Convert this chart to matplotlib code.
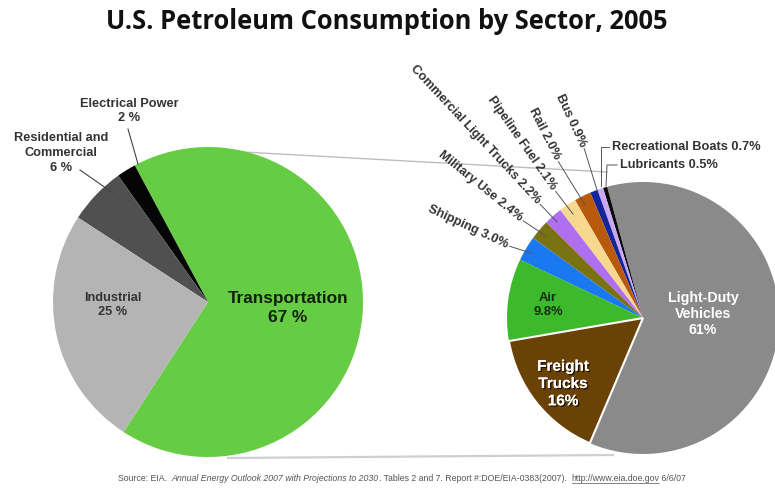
import math
import matplotlib
matplotlib.use("Agg")
import matplotlib.pyplot as plt
import matplotlib.patheffects as pe

# ---- data ----
sector_labels = ["Transportation", "Electrical Power", "Residential and\nCommercial", "Industrial"]
sector_values = [67, 2, 6, 25]
sector_colors = ["#66cc44", "#050505", "#505050", "#b4b4b4"]

transport_labels = ["Light-Duty Vehicles", "Lubricants", "Recreational Boats", "Bus", "Rail",
                    "Pipeline Fuel", "Commercial Light Trucks", "Military Use", "Shipping",
                    "Air", "Freight Trucks"]
transport_values = [61, 0.5, 0.7, 0.9, 2.0, 2.1, 2.2, 2.4, 3.0, 9.8, 16]
transport_colors = ["#8a8a8a", "#0a0a0a", "#caa8f2", "#14249a", "#b85a0c", "#f6d88e",
                    "#b06ef0", "#7a7212", "#1a78f0", "#3cba2c", "#6a4206"]

W, H = 775, 490
def P(x, y):
    return (x, H - y)

fig = plt.figure(figsize=(W / 100, H / 100), dpi=100)
ax = fig.add_axes([0, 0, 1, 1])

LBL = "Liberation Sans"
LS = 9.2  # outside label size

# connector lines
ax.plot(*zip(P(243, 152), P(607, 172)), color="#bdbdbd", lw=1.0, zorder=1)
ax.plot(*zip(P(228, 458), P(613, 455)), color="#cfcfcf", lw=1.6, zorder=1)

# left pie
ax.pie(sector_values, colors=sector_colors, center=P(208, 302), radius=155,
       startangle=-123, counterclock=True,
       wedgeprops=dict(edgecolor="none", linewidth=0))

# right pie
explode = [0.055 if l == "Freight Trucks" else 0 for l in transport_labels]
wedges, _ = ax.pie(transport_values, colors=transport_colors, center=P(643, 318), radius=136,
                   startangle=-113, counterclock=True, explode=explode,
                   wedgeprops=dict(edgecolor="none", linewidth=0))
wedges[-1].set_edgecolor("white")
wedges[-1].set_linewidth(1.5)

ax.set_xlim(0, W)
ax.set_ylim(0, H)
ax.set_aspect("auto")
ax.axis("off")

# title
ax.text(*P(387, 22), "U.S. Petroleum Consumption by Sector, 2005", ha="center", va="center",
        fontsize=18.4, fontweight="bold", family="Open Sans", color="#111111")

# left pie labels
ax.text(*P(288, 308), f"{sector_labels[0]}\n{sector_values[0]} %", ha="center", va="center",
        fontsize=12.4, fontweight="bold", family=LBL, color="#102010", linespacing=1.3)
ax.text(*P(113, 305), f"{sector_labels[3]}\n{sector_values[3]} %", ha="center", va="center",
        fontsize=LS, fontweight="bold", family=LBL, color="#333333", linespacing=1.25)
ax.text(*P(129, 111), f"{sector_labels[1]}\n{sector_values[1]} %", ha="center", va="center",
        fontsize=LS, fontweight="bold", family=LBL, color="#333333", linespacing=1.3)
ax.text(*P(61, 153), f"{sector_labels[2]}\n{sector_values[2]} %", ha="center", va="center",
        fontsize=LS, fontweight="bold", family=LBL, color="#333333", linespacing=1.35)
ax.plot(*zip(P(128, 129), P(138, 164)), color="#444444", lw=0.8)
ax.plot(*zip(P(80, 170), P(113, 193)), color="#444444", lw=0.8)

# right pie inside labels
ax.text(*P(703, 314), f"Light-Duty\nVehicles\n{transport_values[0]:g}%", ha="center", va="center",
        fontsize=10.2, fontweight="bold", family=LBL, color="white", linespacing=1.2)
ax.text(*P(563, 384), f"Freight\nTrucks\n{transport_values[10]:g}%", ha="center", va="center",
        fontsize=11, fontweight="bold", family=LBL, color="white", linespacing=1.3,
        path_effects=[pe.withSimplePatchShadow(offset=(1, -1), shadow_rgbFace="#1a0e00", alpha=0.9),
                      pe.Normal()])
ax.text(*P(548, 305), f"Air\n{transport_values[9]:g}%", ha="center", va="center",
        fontsize=9.4, fontweight="bold", family=LBL, color="#1a2a10", linespacing=1.2)

# rotated outside labels: (index, anchor end x,y, rotation, leader end x,y)
rot_specs = [
    (8, (507, 245), -25, (531, 253)),
    (7, (521, 219), -39, (546, 236)),
    (6, (538, 202), -47, (557, 222)),
    (5, (554, 189), -55, (573, 214)),
    (4, (557, 159), -63, (585, 205)),
    (3, (583, 146), -65, (597, 190)),
]
for idx, (tx, ty), rot, (lx, ly) in rot_specs:
    ax.text(*P(tx, ty), f"{transport_labels[idx]} {transport_values[idx]:.1f}%",
            ha="right", va="center", rotation=rot, rotation_mode="anchor",
            fontsize=LS, fontweight="bold", family=LBL, color="#333333")
    r = math.radians(rot)
    sx, sy = tx + 3 * math.cos(r), ty - 3 * math.sin(r)
    ax.plot(*zip(P(sx, sy), P(lx, ly)), color="#555555", lw=0.7)

# horizontal labels with bracket leaders
ax.text(*P(612, 147), f"{transport_labels[2]} {transport_values[2]:.1f}%", ha="left", va="center",
        fontsize=LS, fontweight="bold", family=LBL, color="#333333")
ax.plot(*zip(P(609, 147), P(601, 147), P(601, 186)), color="#555555", lw=0.7)
ax.text(*P(620, 165), f"{transport_labels[1]} {transport_values[1]:.1f}%", ha="left", va="center",
        fontsize=LS, fontweight="bold", family=LBL, color="#333333")
ax.plot(*zip(P(617, 165), P(607, 165), P(606, 186)), color="#555555", lw=0.7)

# source line
SS = 6.3
fig.canvas.draw()
renderer = fig.canvas.get_renderer()
def after(t):
    bb = t.get_window_extent(renderer)
    return ax.transData.inverted().transform((bb.x1, bb.y0))[0]
t1 = ax.text(118, H - 478, "Source: EIA.  ", ha="left", va="center", fontsize=SS, family=LBL, color="#555555")
x = after(t1)
t2 = ax.text(x, H - 478, "Annual Energy Outlook 2007 with Projections to 2030", ha="left", va="center",
             fontsize=SS, family=LBL, style="italic", color="#555555")
x = after(t2)
t3 = ax.text(x, H - 478, ". Tables 2 and 7. Report #:DOE/EIA-0383(2007).  ", ha="left", va="center",
             fontsize=SS, family=LBL, color="#555555")
x = after(t3)
t4 = ax.text(x, H - 478, "http://www.eia.doe.gov", ha="left", va="center",
             fontsize=SS, family=LBL, color="#555555")
x1 = after(t4)
ax.plot([x, x1], [H - 482.5, H - 482.5], color="#555555", lw=0.5)
ax.text(x1, H - 478, " 6/6/07", ha="left", va="center", fontsize=SS, family=LBL, color="#555555")

fig.savefig("out.png", dpi=100)
